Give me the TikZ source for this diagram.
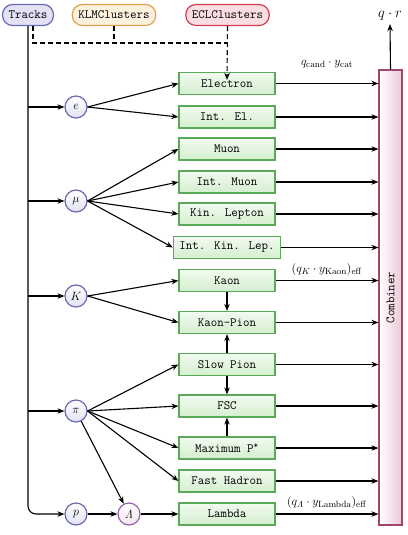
\documentclass[tikz,border=0pt]{standalone}
\usetikzlibrary{arrows.meta}
\newcommand\fsz{\fontsize{12.6}{15}\selectfont}
\definecolor{tblue}{RGB}{105,105,180}
\definecolor{tbluefill}{RGB}{226,226,244}
\definecolor{korange}{RGB}{225,160,80}
\definecolor{korangefill}{RGB}{253,241,222}
\definecolor{ered}{RGB}{210,60,80}
\definecolor{eredfill}{RGB}{250,222,226}
\definecolor{bgreen}{RGB}{90,170,90}
\definecolor{bgreentop}{RGB}{242,251,240}
\definecolor{bgreenbot}{RGB}{212,238,206}
\definecolor{lpurple}{RGB}{150,100,170}
\definecolor{lpurplefill}{RGB}{246,230,242}
\definecolor{cborder}{RGB}{160,70,110}
\definecolor{cfill}{RGB}{236,200,216}
\tikzset{
  src/.style={draw, line width=1.2pt, rounded corners=10pt, minimum height=21pt, inner xsep=6pt, font=\fsz\ttfamily},
  boxn/.style={draw=bgreen, line width=1.2pt, top color=bgreentop, bottom color=bgreenbot, minimum width=96pt, minimum height=22pt, inner xsep=6pt, inner ysep=0pt, font=\fsz\ttfamily},
  part/.style={circle, draw=tblue, line width=1.2pt, top color=white, bottom color=tbluefill, minimum size=22pt, inner sep=0pt, font=\fsz},
  arr/.style={-{Stealth[length=7pt,width=5.5pt]}, line width=1.1pt},
  dsh/.style={dash pattern=on 5pt off 3pt, line width=1.1pt},
  lab/.style={font=\fsz}
}
\begin{document}
\begin{tikzpicture}[x=1pt,y=-1pt]
\useasboundingbox (0,0) rectangle (407,535);
% sources
\node[src, draw=tblue, fill=tbluefill] (Tracks) at (28,15) {Tracks};
\node[src, draw=korange, fill=korangefill] (KLM) at (114,15) {KLMClusters};
\node[src, draw=ered, fill=eredfill] (ECL) at (227.5,15) {ECLClusters};
% boxes
\node[boxn] (El) at (227,83.5) {Electron};
\node[boxn] (IEl) at (227,117) {Int. El.};
\node[boxn] (Mu) at (227,149) {Muon};
\node[boxn] (IMu) at (227,182) {Int. Muon};
\node[boxn] (KL) at (227,214) {Kin. Lepton};
\node[boxn] (IKL) at (227,247.5) {Int. Kin. Lep.};
\node[boxn] (Ka) at (227,280.5) {Kaon};
\node[boxn] (KP) at (227,322.5) {Kaon-Pion};
\node[boxn] (SP) at (227,364.5) {Slow Pion};
\node[boxn] (FSC) at (227,406) {FSC};
\node[boxn] (MP) at (227,448) {Maximum P\textsuperscript{*}};
\node[boxn] (FH) at (227,481) {Fast Hadron};
\node[boxn] (La) at (227,514) {Lambda};
% particles
\node[part] (e) at (76,107) {$e$};
\node[part] (mu) at (76,201) {$\mu$};
\node[part] (K) at (76,296) {$K$};
\node[part] (pi) at (76,411) {$\pi$};
\node[part] (p) at (76,514) {$p$};
\node[part, draw=lpurple, bottom color=lpurplefill] (Lam) at (129,514) {$\mathit{\Lambda}$};
% combiner
\node[draw=cborder, line width=1.2pt, left color=white, right color=cfill, minimum width=23pt, minimum height=455pt, inner sep=0pt, font=\fsz\ttfamily] (Comb) at (390.5,297.5) {\rotatebox{90}{Combiner}};
\node[font=\fontsize{15}{18}\selectfont] (qr) at (390,16) {$q\cdot r$};
\draw[arr] (Comb.north) -- (qr.south);
% dashed inputs
\coordinate (dj) at (227.5,43);
\draw[dsh] ([xshift=5pt]Tracks.south) |- (dj);
\draw[dsh] (KLM.south) -- (KLM.south |- dj);
\draw[dsh, arr] (ECL.south) -- ([yshift=-8pt]El.north);
% trunk
\draw[arr, rounded corners=8pt] (Tracks.south) |- (p.west);
\foreach \n in {e,mu,K,pi} { \draw[arr] (\n -| Tracks.south) -- (\n.west); }
% particle to boxes
\draw[arr] (e.east) -- (El.west);
\draw[arr] (e.east) -- (IEl.west);
\draw[arr] (mu.east) -- (Mu.west);
\draw[arr] (mu.east) -- (IMu.west);
\draw[arr] (mu.east) -- (KL.west);
\draw[arr] (mu.east) -- (IKL.west);
\draw[arr] (K.east) -- (Ka.west);
\draw[arr] (K.east) -- (KP.west);
\draw[arr] (pi.east) -- (SP.west);
\draw[arr] (pi.east) -- (FSC.west);
\draw[arr] (pi.east) -- (MP.west);
\draw[arr] (pi.east) -- (FH.west);
\draw[arr] (pi) -- (Lam);
\draw[arr] (p) -- (Lam);
\draw[arr] (Lam) -- (La);
% vertical between boxes
\draw[arr] (Ka) -- (KP);
\draw[arr] (SP) -- (KP);
\draw[arr] (SP) -- (FSC);
\draw[arr] (MP) -- (FSC);
% to combiner
\foreach \b in {El,IEl,Mu,IMu,KL,IKL,Ka,KP,SP,FSC,MP,FH,La} { \draw[arr] (\b.east) -- (\b -| Comb.west); }
% labels
\node[lab] (l1) at (327,64) {$q_{\mathrm{cand}}\cdot y_{\mathrm{cat}}$};
\node[lab] (l2) at (327,269) {$(q_K\cdot y_{\mathrm{Kaon}})_{\mathrm{eff}}$};
\node[lab] (l3) at (327,502) {$(q_{\mathit{\Lambda}}\cdot y_{\mathrm{Lambda}})_{\mathrm{eff}}$};
\end{tikzpicture}
\end{document}
